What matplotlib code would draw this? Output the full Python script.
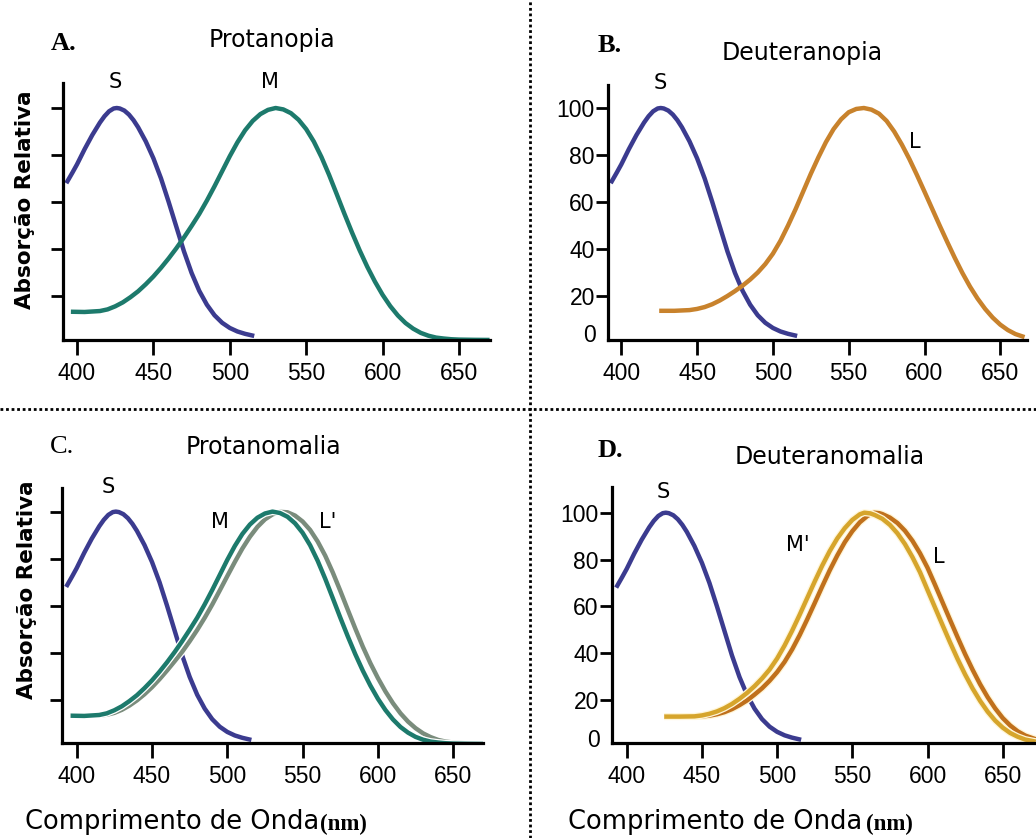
import matplotlib
matplotlib.use("Agg")
import matplotlib.pyplot as plt
import matplotlib.patheffects as pe
from matplotlib.lines import Line2D

W, H = 1036, 838

# S cone (same in every panel)
wl_s = [393, 397, 400, 405, 410, 415, 418, 421, 424, 426, 428, 431, 434, 437,
        440, 445, 450, 455, 460, 465, 470, 475, 480, 485, 490, 495, 500, 505,
        510, 516]
s_abs = [68, 72.5, 76, 82.5, 88.5, 93.8, 96.5, 98.6, 99.8, 100, 99.8, 98.9, 97.2, 94.8,
         91.8, 85.8, 78.6, 70, 60, 49.5, 39, 29.8, 22.2, 16.3, 11.8, 8.6, 6.4, 4.9,
         3.9, 3.0]

# M cone (A, C) and anomalous L' (C)
wl_m = [396, 405, 415, 420, 425, 430, 435, 440, 445, 450, 455, 460, 465,
        470, 475, 480, 485, 490, 495, 500, 505, 510, 515, 520, 525, 530,
        535, 540, 545, 550, 555, 560, 565, 570, 575, 580, 585, 590, 595,
        600, 605, 610, 615, 620, 625, 630, 635, 640, 645, 650, 660, 670]
m_abs = [13.3, 13.2, 13.6, 14.3, 15.6, 17.3, 19.5, 22.0, 25.0, 28.3, 32.0, 36.0, 40.3,
         44.9, 49.8, 54.9, 60.6, 66.7, 73.1, 79.5, 85.4, 90.5, 94.5, 97.4, 99.2, 100,
         99.4, 97.8, 95.0, 91.0, 85.7, 79.1, 71.5, 63.3, 55.0, 47.0, 39.4, 32.4, 26.1,
         20.5, 15.7, 11.7, 8.5, 6.1, 4.3, 3.1, 2.3, 1.9, 1.6, 1.45, 1.35, 1.3]
lp_abs = [13.3, 13.3, 13.4, 13.7, 14.5, 15.8, 17.6, 19.8, 22.4, 25.4, 28.8, 32.5, 36.4,
          40.4, 44.9, 49.7, 54.9, 60.5, 66.5, 72.6, 78.6, 84.3, 89.3, 93.5, 96.7, 98.8,
          99.9, 99.7, 98.3, 95.8, 92.2, 87.3, 81.3, 74.2, 66.4, 58.3, 50.3, 42.6, 35.6,
          29.3, 23.6, 18.6, 14.3, 10.8, 8.0, 5.8, 4.2, 3.0, 2.3, 1.9, 1.5, 1.3]

# L cone (B)
wl_l = [425, 435, 445, 450, 455, 460, 465, 470, 475, 480, 485, 490, 495, 500,
        505, 510, 515, 520, 525, 530, 535, 540, 545, 550, 555, 560, 565, 570,
        575, 580, 585, 590, 595, 600, 605, 610, 615, 620, 625, 630, 635, 640,
        645, 650, 655, 660, 666]
l_abs = [13.7, 13.7, 14.0, 14.5, 15.3, 16.5, 18.1, 20.0, 22.1, 24.4, 27.0, 30.0, 33.6, 38.0,
         43.5, 50.0, 57.0, 64.5, 72.0, 79.0, 85.5, 91.0, 95.2, 98.2, 99.6, 100, 99.3, 97.6,
         94.5, 90.0, 84.5, 78.3, 71.5, 64.4, 57.2, 50.0, 43.0, 36.2, 29.8, 24.0, 18.9, 14.5,
         10.8, 7.8, 5.5, 3.8, 2.5]

# anomalous M' (D)
wl_mp = [425, 435, 445, 450, 455, 460, 465, 470, 475, 480, 485, 490, 495, 500,
         505, 510, 515, 520, 525, 530, 535, 540, 545, 550, 555, 558, 562, 565,
         570, 575, 580, 585, 590, 595, 600, 605, 610, 615, 620, 625, 630, 635,
         640, 645, 650, 655, 660, 665, 672]
mp_abs = [12.9, 12.9, 13.0, 13.4, 14.1, 15.1, 16.5, 18.3, 20.5, 23.0, 25.9, 29.2, 33.0, 37.7,
          43.3, 49.6, 56.4, 63.5, 70.6, 77.4, 83.6, 89.0, 93.4, 96.9, 99.3, 100, 99.7, 99.0,
          97.4, 94.8, 91.2, 86.6, 81.0, 74.6, 67.0, 59.5, 52.0, 44.6, 37.5, 30.9, 24.9, 19.6,
          15.0, 11.2, 8.2, 5.9, 4.3, 3.1, 2.2]

# L cone (D)
wl_ld = [425, 435, 445, 450, 455, 460, 465, 470, 475, 480, 485, 490, 495, 500,
         505, 510, 515, 520, 525, 530, 535, 540, 545, 550, 555, 560, 564.5, 568,
         570, 575, 580, 585, 590, 595, 600, 605, 610, 615, 620, 625, 630, 635,
         640, 645, 650, 655, 660, 665, 672]
ld_abs = [12.9, 12.9, 12.9, 13.0, 13.3, 13.9, 14.8, 16.1, 17.8, 19.8, 22.3, 25.0, 28.2, 31.9,
          36.3, 41.6, 47.7, 54.4, 61.4, 68.5, 75.4, 81.7, 87.4, 92.1, 95.9, 98.6, 100, 99.8,
          99.4, 97.9, 95.6, 92.3, 88.0, 82.7, 76.5, 69.2, 61.7, 54.2, 46.8, 39.6, 32.9, 26.7,
          21.2, 16.4, 12.3, 9.1, 6.6, 4.8, 3.2]

x_ticks = [400, 450, 500, 550, 600, 650]
y_ticks = [20, 40, 60, 80, 100]

c_s = "#3b3b8f"
c_m = "#1d7a6c"
c_lp = "#7a8c7c"
c_l = "#c8822c"
c_mp = "#d6a52c"
c_ld = "#c0701c"

fig = plt.figure(figsize=(W / 100, H / 100), dpi=100)


def make_axes(left, top, right, bottom, x400, ppn, y0, ppu, zero_px=None):
    ax = fig.add_axes([left / W, 1 - bottom / H, (right - left) / W, (bottom - top) / H])
    ax.set_xlim(400 + (left - x400) / ppn, 400 + (right - x400) / ppn)
    ax.set_ylim((y0 - bottom) / ppu, (y0 - top) / ppu)
    for s in ["top", "right"]:
        ax.spines[s].set_visible(False)
    for s in ["left", "bottom"]:
        ax.spines[s].set_linewidth(2.3)
    ax.set_xticks(x_ticks)
    ax.set_yticks(y_ticks)
    ax.tick_params(axis="x", length=11, width=2, pad=5, labelsize=16.5)
    ax.tick_params(axis="y", length=8.5, width=2, pad=1, labelsize=16.5)
    if zero_px is None:
        ax.set_yticklabels([])
    else:
        ax.text(-0.028, (y0 - zero_px) / ppu, "0", transform=ax.get_yaxis_transform(),
                ha="right", va="center", fontsize=16.5, family="Liberation Sans")
    for lab in ax.get_xticklabels() + ax.get_yticklabels():
        lab.set_family("Liberation Sans")
    ax.patch.set_alpha(0)
    return ax


def curve(ax, x, y, color, outline=None):
    kw = dict(color=color, lw=3.2, solid_capstyle="butt", solid_joinstyle="round")
    if outline:
        kw["path_effects"] = [pe.Stroke(linewidth=5.0, foreground=outline), pe.Normal()]
    ax.plot(x, y, **kw)


axA = make_axes(63, 83, 490, 340, 77, 1.528, 343, 2.35)
curve(axA, wl_s, s_abs, c_s)
curve(axA, wl_m, m_abs, c_m)

axB = make_axes(608, 85, 1027, 340, 621.3, 1.516, 343, 2.35, zero_px=335)
curve(axB, wl_s, s_abs, c_s)
curve(axB, wl_l, l_abs, c_l)

axC = make_axes(62, 488, 483, 743, 76.7, 1.506, 747, 2.354)
curve(axC, wl_s, s_abs, c_s)
curve(axC, wl_m, lp_abs, c_lp, "white")
curve(axC, wl_m, m_abs, c_m, "white")

axD = make_axes(612, 487, 1040, 743, 626.7, 1.504, 746.8, 2.341, zero_px=740)
curve(axD, wl_s, s_abs, c_s)
curve(axD, wl_ld, ld_abs, c_ld, "#fff6d8")
curve(axD, wl_mp, mp_abs, c_mp, "#fff6d8")


def ftext(x, y, s, **kw):
    fig.text(x / W, 1 - y / H, s, **kw)


serif = dict(family="Liberation Serif", fontsize=19, ha="center", va="center")
ftext(64, 43, "A.", weight="bold", **serif)
ftext(610, 45, "B.", weight="bold", **serif)
ftext(62, 447, "C.", **serif)
ftext(610, 450, "D.", weight="bold", **serif)

title = dict(fontsize=17, ha="center", va="center")
ftext(272, 40, "Protanopia", **title)
ftext(802, 53, "Deuteranopia", **title)
ftext(263, 447, "Protanomalia", **title)
ftext(830, 457, "Deuteranomalia", **title)

lab = dict(fontsize=15, ha="center", va="center")
ftext(115, 82, "S", **lab)
ftext(270, 82, "M", **lab)
ftext(660, 83, "S", **lab)
ftext(915, 142, "L", **lab)
ftext(108, 487, "S", **lab)
ftext(220, 522, "M", **lab)
ftext(328, 522, "L'", **lab)
ftext(663, 492, "S", **lab)
ftext(798, 545, "M'", **lab)
ftext(939, 557, "L", **lab)

ylab = dict(fontsize=15.5, weight="bold", rotation=90, ha="center", va="center")
ftext(25, 200, "Absorção Relativa", **ylab)
ftext(27, 590, "Absorção Relativa", **ylab)

xlab = dict(fontsize=18.5, ha="left", va="center")
nm = dict(family="Liberation Serif", weight="bold", fontsize=16.5, ha="left", va="center")
ftext(25, 822, "Comprimento de Onda", **xlab)
ftext(320, 824, "(nm)", **nm)
ftext(568, 822, "Comprimento de Onda", **xlab)
ftext(866, 824, "(nm)", **nm)

fig.add_artist(Line2D([530 / W, 530 / W], [0, 1], transform=fig.transFigure,
                      color="black", lw=2, ls=(0, (1, 1))))
fig.add_artist(Line2D([0, 1], [1 - 409 / H, 1 - 409 / H], transform=fig.transFigure,
                      color="black", lw=2, ls=(0, (1, 1))))

fig.savefig("out.png", dpi=100, facecolor="white")
